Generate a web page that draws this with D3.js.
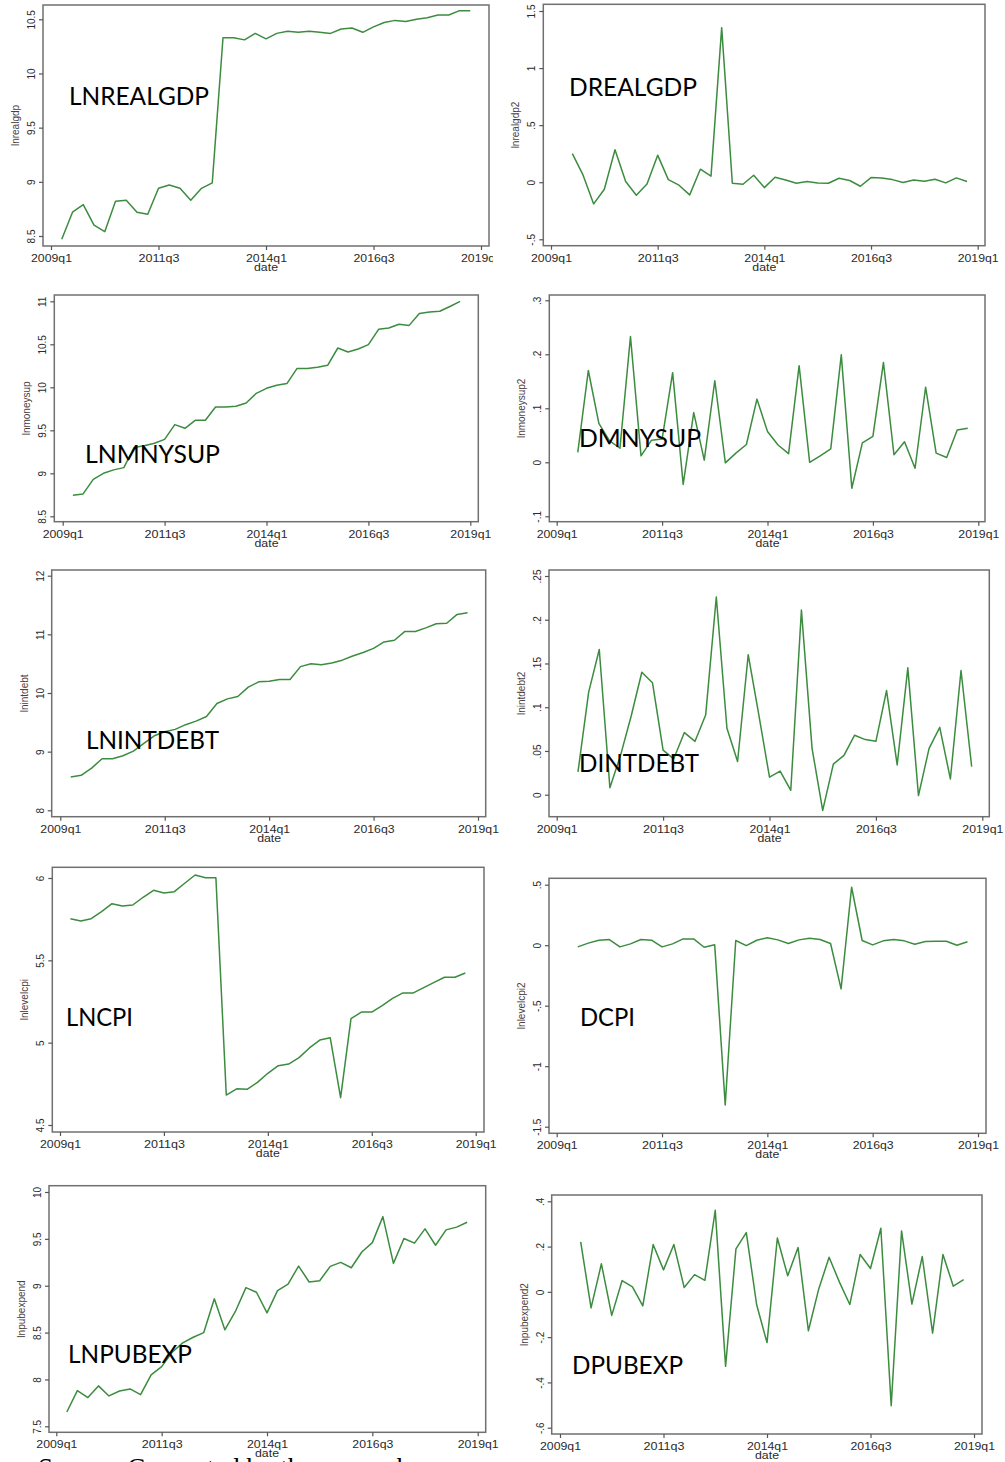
<!DOCTYPE html>
<html><head><meta charset="utf-8">
<script src="https://cdn.jsdelivr.net/npm/d3@7"></script>
<style>
html,body{margin:0;padding:0;background:#fff;overflow:hidden;}
svg{display:block;}
</style></head>
<body>
<svg id="c" width="1005" height="1462"></svg>
<script>
// ---------- DATA ----------
const quarters = ["2009q2","2009q3","2009q4",
 "2010q1","2010q2","2010q3","2010q4","2011q1","2011q2","2011q3","2011q4",
 "2012q1","2012q2","2012q3","2012q4","2013q1","2013q2","2013q3","2013q4",
 "2014q1","2014q2","2014q3","2014q4","2015q1","2015q2","2015q3","2015q4",
 "2016q1","2016q2","2016q3","2016q4","2017q1","2017q2","2017q3","2017q4",
 "2018q1","2018q2","2018q3","2018q4"];
const xTickLabels = ["2009q1","2011q3","2014q1","2016q3","2019q1"];

const lnrealgdp = [8.47,8.72,8.79,8.60,8.54,8.82,8.83,8.72,8.70,8.94,8.97,8.94,8.83,8.94,8.99,10.33,10.33,10.31,10.37,10.32,10.37,10.39,10.38,10.39,10.38,10.37,10.41,10.42,10.38,10.43,10.47,10.49,10.48,10.50,10.515,10.54,10.54,10.58,10.58];
const drealgdp = [0.251,0.064,-0.19,-0.061,0.284,0.006,-0.114,-0.015,0.237,0.023,-0.026,-0.111,0.114,0.053,1.354,-0.009,-0.018,0.061,-0.047,0.044,0.02,-0.009,0.006,-0.006,-0.009,0.035,0.015,-0.035,0.041,0.038,0.023,-0.003,0.02,0.009,0.026,-0.006,0.038,0.006];
const lnmnysup = [8.744,8.76,8.93,9.0,9.04,9.066,9.30,9.32,9.35,9.395,9.566,9.523,9.616,9.616,9.77,9.77,9.78,9.818,9.93,9.988,10.023,10.043,10.22,10.22,10.233,10.256,10.457,10.41,10.446,10.496,10.674,10.69,10.733,10.72,10.857,10.876,10.884,10.94,11.0];
const dmnysup = [0.0185,0.17,0.072,0.04,0.026,0.233,0.012,0.041,0.043,0.166,-0.041,0.092,0.004,0.151,-0.001,0.017,0.033,0.117,0.057,0.032,0.016,0.179,0.0,0.012,0.025,0.199,-0.048,0.036,0.048,0.185,0.014,0.038,-0.011,0.139,0.017,0.009,0.06,0.063];
const lnintdebt = [8.568,8.597,8.72,8.88,8.88,8.93,9.01,9.14,9.27,9.34,9.38,9.46,9.52,9.6,9.82,9.9,9.94,10.1,10.19,10.2,10.23,10.23,10.45,10.5,10.48,10.51,10.56,10.63,10.69,10.76,10.87,10.9,11.05,11.05,11.11,11.18,11.19,11.34,11.37];
const dintdebt = [0.026,0.117,0.166,0.008,0.045,0.09,0.14,0.128,0.051,0.041,0.071,0.061,0.091,0.226,0.076,0.038,0.16,0.091,0.02,0.027,0.005,0.211,0.053,-0.018,0.035,0.045,0.068,0.063,0.061,0.119,0.034,0.145,-0.001,0.053,0.077,0.018,0.142,0.032];
const lncpi = [5.753,5.739,5.753,5.796,5.844,5.83,5.836,5.883,5.925,5.909,5.917,5.968,6.018,6.002,6.002,4.682,4.72,4.717,4.759,4.814,4.86,4.87,4.909,4.968,5.016,5.03,4.666,5.146,5.186,5.186,5.225,5.269,5.302,5.302,5.334,5.366,5.397,5.397,5.423];
const dcpi = [-0.014,0.017,0.041,0.047,-0.014,0.011,0.047,0.041,-0.014,0.011,0.052,0.052,-0.017,0.003,-1.32,0.039,-0.003,0.041,0.061,0.044,0.014,0.044,0.058,0.047,0.014,-0.361,0.479,0.039,0.003,0.036,0.047,0.036,0.008,0.03,0.033,0.033,0.0,0.028];
const lnpubexp = [7.653,7.881,7.806,7.931,7.824,7.877,7.899,7.838,8.048,8.137,8.29,8.39,8.45,8.5,8.86,8.53,8.725,8.98,8.93,8.71,8.947,9.018,9.21,9.04,9.053,9.206,9.249,9.192,9.36,9.46,9.737,9.238,9.504,9.454,9.607,9.432,9.596,9.625,9.677];
const dpubexp = [0.221,-0.071,0.124,-0.104,0.05,0.022,-0.062,0.209,0.097,0.209,0.019,0.076,0.051,0.36,-0.329,0.19,0.262,-0.057,-0.224,0.238,0.071,0.196,-0.172,0.013,0.153,0.043,-0.056,0.165,0.103,0.281,-0.503,0.269,-0.054,0.156,-0.182,0.165,0.025,0.054];

const ticksLNREALGDP = [8.5,9,9.5,10,10.5];
const ticksDREALGDP = [-0.5,0,0.5,1,1.5];
const ticksLNMNYSUP = [8.5,9,9.5,10,10.5,11];
const ticksDMNYSUP = [-0.1,0,0.1,0.2,0.3];
const ticksLNINTDEBT = [8,9,10,11,12];
const ticksDINTDEBT = [0,0.05,0.1,0.15,0.2,0.25];
const ticksLNCPI = [4.5,5,5.5,6];
const ticksDCPI = [-1.5,-1,-0.5,0,0.5];
const ticksLNPUBEXP = [7.5,8,8.5,9,9.5,10];
const ticksDPUBEXP = [-0.6,-0.4,-0.2,0,0.2,0.4];

const sourceNote = "Source: Computed by the researcher";

// ---------- LAYOUT ----------
const panels = [
 {name:"LNREALGDP", yt:"lnrealgdp", vals:lnrealgdp, diff:false, ticks:ticksLNREALGDP, frame:[43,5,489,246], xr:[51,481], yr:[236,19.3], lab:[69,105,140], clip:493},
 {name:"DREALGDP", yt:"lnrealgdp2", vals:drealgdp, diff:true, ticks:ticksDREALGDP, frame:[543.3,4.3,985,245.7], xr:[551,977.7], yr:[239.3,11], lab:[569,96,128]},
 {name:"LNMNYSUP", yt:"lnmoneysup", vals:lnmnysup, diff:false, ticks:ticksLNMNYSUP, frame:[54.3,295,478.3,521.7], xr:[62.7,470.3], yr:[516.3,301.3], lab:[85,462.7,135]},
 {name:"DMNYSUP", yt:"lnmoneysup2", vals:dmnysup, diff:true, ticks:ticksDMNYSUP, frame:[549.3,295,985,521.7], xr:[556.7,978.3], yr:[516.3,300.3], lab:[579,446.7,122]},
 {name:"LNINTDEBT", yt:"lnintdebt", vals:lnintdebt, diff:false, ticks:ticksLNINTDEBT, frame:[51.7,570,485.7,816.7], xr:[60.3,478], yr:[810.3,575.7], lab:[86,749,133]},
 {name:"DINTDEBT", yt:"lnintdebt2", vals:dintdebt, diff:true, ticks:ticksDINTDEBT, frame:[549,570,989.3,816.7], xr:[556.7,982.3], yr:[794.7,576], lab:[579,771.7,120]},
 {name:"LNCPI", yt:"lnlevelcpi", vals:lncpi, diff:false, ticks:ticksLNCPI, frame:[52.3,867.3,484,1132], xr:[60,475.7], yr:[1125,878], lab:[66,1025.7,67]},
 {name:"DCPI", yt:"lnlevelcpi2", vals:dcpi, diff:true, ticks:ticksDCPI, frame:[549,878.3,986,1133.3], xr:[556.7,978], yr:[1126.7,884.7], lab:[580,1025.7,55]},
 {name:"LNPUBEXP", yt:"lnpubexpend", vals:lnpubexp, diff:false, ticks:ticksLNPUBEXP, frame:[49,1185.7,485.7,1432.3], xr:[56.3,477.7], yr:[1426.3,1192], lab:[68,1362.7,124]},
 {name:"DPUBEXP", yt:"lnpubexpend2", vals:dpubexp, diff:true, ticks:ticksDPUBEXP, frame:[551.7,1195,982,1434], xr:[560,974], yr:[1427.7,1201.3], lab:[572,1374,111]}
];

const qIndex = s => (+s.slice(0,4) - 2009) * 4 + (+s.slice(5) - 1);
const fmtY = d => { let s = String(d); return s.replace(/^(-?)0\./, "$1."); };

const svg = d3.select("#c");
const defs = svg.append("defs");
const LINE = "#3c8c3f", FRAME = "#707070", TXT = "#2b2b2b";

panels.forEach((p, i) => {
  const g = svg.append("g");
  if (p.clip) {
    defs.append("clipPath").attr("id", "clip" + i)
      .append("rect").attr("x", 0).attr("y", 0).attr("width", p.clip).attr("height", 1462);
    g.attr("clip-path", `url(#clip${i})`);
  }
  const [l, t, r, b] = p.frame;
  const x = d3.scaleLinear().domain([qIndex("2009q1"), qIndex("2019q1")]).range(p.xr);
  const y = d3.scaleLinear().domain([p.ticks[0], p.ticks[p.ticks.length - 1]]).range(p.yr);
  const qs = p.diff ? quarters.slice(1) : quarters;

  // frame
  g.append("rect").attr("x", l).attr("y", t).attr("width", r - l).attr("height", b - t)
    .attr("fill", "#fff").attr("stroke", FRAME).attr("stroke-width", 1.5);

  // x axis
  const xa = g.append("g").attr("transform", `translate(0,${b})`)
    .call(d3.axisBottom(x).tickValues(xTickLabels.map(qIndex))
      .tickFormat((d, k) => xTickLabels[k]).tickSize(4).tickSizeOuter(0).tickPadding(3));
  xa.select(".domain").remove();
  xa.selectAll(".tick line").attr("stroke", "#555").attr("stroke-width", 1.2);
  xa.selectAll(".tick text").attr("fill", TXT).attr("font-family", "Liberation Sans, Arial, sans-serif")
    .attr("font-size", 10.5).attr("dy", null).attr("y", 16).attr("dominant-baseline", null)
    .attr("textLength", 41).attr("lengthAdjust", "spacingAndGlyphs");
  g.append("text").attr("x", x(qIndex("2014q1"))).attr("y", b + 25).attr("text-anchor", "middle")
    .attr("font-family", "Liberation Sans, Arial, sans-serif").attr("font-size", 10.5).attr("fill", TXT)
    .attr("textLength", 24).attr("lengthAdjust", "spacingAndGlyphs").text("date");

  // y axis
  const ya = g.append("g").attr("transform", `translate(${l},0)`)
    .call(d3.axisLeft(y).tickValues(p.ticks).tickFormat(fmtY).tickSize(4).tickSizeOuter(0));
  ya.select(".domain").remove();
  ya.selectAll(".tick line").attr("stroke", "#555").attr("stroke-width", 1.2);
  ya.selectAll(".tick text").attr("fill", TXT).attr("font-family", "Liberation Sans, Arial, sans-serif")
    .attr("font-size", 10).attr("x", 0).attr("y", -8).attr("dy", null)
    .attr("text-anchor", "middle").attr("transform", "rotate(-90)");

  // y title
  const cy = (t + b) / 2, tx = l - 24;
  g.append("text").attr("transform", `translate(${tx},${cy}) rotate(-90)`)
    .attr("text-anchor", "middle").attr("font-family", "Liberation Sans, Arial, sans-serif")
    .attr("font-size", 10).attr("fill", "#4a4040").text(p.yt);

  // series line
  const line = d3.line().x((d, k) => x(qIndex(qs[k]))).y(d => y(d));
  g.append("path").datum(p.vals).attr("d", line).attr("fill", "none")
    .attr("stroke", LINE).attr("stroke-width", 1.5).attr("stroke-linejoin", "round");

  // big label
  g.append("text").attr("x", p.lab[0]).attr("y", p.lab[1])
    .attr("font-family", "Lato, 'Open Sans', sans-serif").attr("font-size", 25).attr("fill", "#000")
    .attr("textLength", p.lab[2]).attr("lengthAdjust", "spacingAndGlyphs").text(p.name);
});

svg.append("text").attr("x", 38).attr("y", 1477)
  .attr("font-family", "Liberation Serif, 'DejaVu Serif', serif").attr("font-size", 27).attr("fill", "#000")
  .text(sourceNote);
</script>
</body></html>
